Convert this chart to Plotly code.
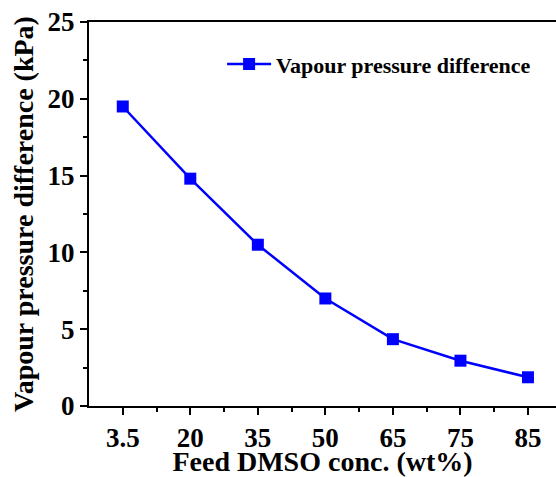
import plotly.graph_objects as go

categories = ["3.5", "20", "35", "50", "65", "75", "85"]
vapour_diff = [19.5, 14.8, 10.5, 7.0, 4.35, 2.95, 1.87]
series_name = "Vapour pressure difference"

idx = list(range(len(categories)))
FONT = "Liberation Serif"

fig = go.Figure()
fig.add_trace(go.Scatter(
    x=idx, y=vapour_diff, mode="lines+markers", name=series_name,
    line=dict(color="#0000FF", width=2.5),
    marker=dict(symbol="square", size=12, color="#0000FF"),
))

fig.update_layout(
    width=556, height=477,
    margin=dict(l=89, r=0, t=22, b=71),
    paper_bgcolor="white", plot_bgcolor="white",
    font=dict(family=FONT, color="black", weight="bold"),
    showlegend=True,
    legend=dict(x=0.285, y=0.89, xanchor="left", yanchor="middle",
                bgcolor="rgba(0,0,0,0)", itemwidth=44,
                font=dict(family=FONT, size=22, color="black", weight="bold")),
)

fig.update_xaxes(
    range=[-0.5, 6.415], tickmode="array", tickvals=idx,
    ticktext=["<b>%s</b>" % c for c in categories],
    showgrid=False, zeroline=False,
    showline=True, linecolor="black", linewidth=2, mirror=True,
    ticks="outside", ticklen=7, tickwidth=2, tickcolor="black",
    minor=dict(tickmode="array", tickvals=[i + 0.5 for i in idx],
               ticks="outside", ticklen=4, tickwidth=1.5, tickcolor="black"),
    tickfont=dict(family=FONT, size=27, color="black", weight="bold"),
    ticklabelstandoff=0,
    title=dict(text="<b>Feed DMSO conc. (wt%)</b>", standoff=0,
               font=dict(family=FONT, size=28, color="black", weight="bold")),
    automargin=False,
)
fig.update_yaxes(
    range=[0, 25], dtick=5, tick0=0,
    showgrid=False, zeroline=False,
    showline=True, linecolor="black", linewidth=2, mirror=False,
    ticks="outside", ticklen=7, tickwidth=2, tickcolor="black",
    minor=dict(dtick=2.5, tick0=0, ticks="outside", ticklen=4, tickwidth=1.5, tickcolor="black"),
    tickfont=dict(family=FONT, size=27, color="black", weight="bold"),
    title=dict(text="<b>Vapour pressure difference (kPa)</b>", standoff=6,
               font=dict(family=FONT, size=28, color="black", weight="bold")),
    automargin=False,
)

fig.write_html("out.html")
